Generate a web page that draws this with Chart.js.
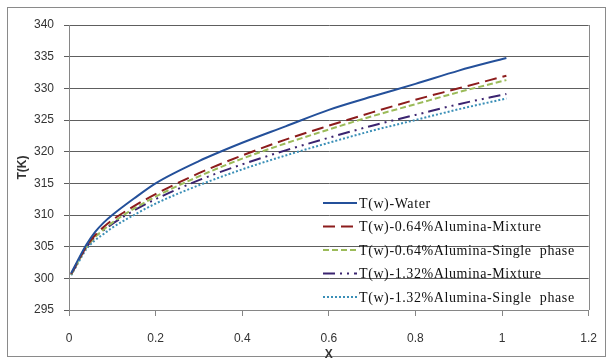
<!DOCTYPE html>
<html>
<head>
<meta charset="utf-8">
<script src="https://cdn.jsdelivr.net/npm/chart.js@4"></script>
<style>
  html, body { margin: 0; padding: 0; background: #fff; }
  #wrap { width: 612px; height: 363px; }
</style>
</head>
<body>
<div id="wrap"><canvas id="chart" width="612" height="363"></canvas></div>
<script>
// ─── data ───
const xs = [0.005, 0.02, 0.04, 0.06, 0.08, 0.1, 0.15, 0.2, 0.3, 0.4, 0.5, 0.6, 0.7, 0.8, 0.9, 1.01];
const water   = [300.8, 302.8, 305.3, 307.3, 308.8, 310.0, 312.6, 315.0, 318.5, 321.4, 324.0, 326.6, 328.7, 330.7, 332.8, 334.8];
const mix064  = [300.7, 302.6, 305.0, 306.8, 308.1, 309.2, 311.4, 313.3, 316.6, 319.4, 321.9, 324.1, 326.2, 328.2, 330.0, 332.0];
const sing064 = [300.6, 302.5, 304.9, 306.5, 307.7, 308.8, 311.0, 312.9, 316.1, 318.9, 321.3, 323.5, 325.6, 327.5, 329.4, 331.3];
const mix132  = [300.6, 302.5, 304.9, 306.5, 307.6, 308.6, 310.7, 312.5, 315.5, 318.0, 320.2, 322.2, 324.1, 325.8, 327.5, 329.1];
const sing132 = [300.5, 302.3, 304.6, 306.0, 307.0, 308.0, 310.0, 311.8, 314.7, 317.2, 319.4, 321.4, 323.3, 325.0, 326.7, 328.4];

const seriesNames = [
  "T(w)-Water",
  "T(w)-0.64%Alumina-Mixture",
  "T(w)-0.64%Alumina-Single  phase",
  "T(w)-1.32%Alumina-Mixture",
  "T(w)-1.32%Alumina-Single  phase"
];
const yTicks = [295, 300, 305, 310, 315, 320, 325, 330, 335, 340];
const xTicks = [0, 0.2, 0.4, 0.6, 0.8, 1, 1.2];

const colors = ["#24509a", "#8c1c1c", "#9bbb59", "#3b2470", "#3a8fb7"];
const dashes = [[], [12, 6], [6, 3], [12, 5, 2, 5, 2, 5], [2, 2]];

function points(vals) {
  return xs.map((x, i) => ({ x: x, y: vals[i] }));
}

const allSeries = [water, mix064, sing064, mix132, sing132];

// ─── frame + right edge of the plot ───
const framePlugin = {
  id: "frame",
  beforeDraw(chart) {
    const ctx = chart.ctx;
    ctx.save();
    ctx.fillStyle = "#fff";
    ctx.fillRect(0, 0, chart.width, chart.height);
    ctx.strokeStyle = "#8a8a8a";
    ctx.lineWidth = 1;
    ctx.strokeRect(7.5, 7.5, 598, 349);
    ctx.restore();
  },
  afterDraw(chart) {
    const ctx = chart.ctx;
    const a = chart.chartArea;
    ctx.save();
    ctx.strokeStyle = "#8a8a8a";
    ctx.lineWidth = 1;
    ctx.beginPath();
    ctx.moveTo(Math.round(a.right) + 0.5, a.top);
    ctx.lineTo(Math.round(a.right) + 0.5, a.bottom);
    ctx.stroke();
    ctx.restore();
  }
};

// ─── legend inside the plot (transparent, like Excel) ───
const insideLegend = {
  id: "insideLegend",
  afterDraw(chart) {
    const ctx = chart.ctx;
    const x0 = 323, x1 = 357, top = 203, step = 23.5;
    ctx.save();
    ctx.font = "14px 'Liberation Serif', 'Times New Roman', serif";
    ctx.letterSpacing = "0.6px";
    ctx.textBaseline = "middle";
    ctx.fillStyle = "#111";
    chart.data.datasets.forEach((ds, i) => {
      const y = top + i * step;
      ctx.strokeStyle = ds.borderColor;
      ctx.lineWidth = 2;
      ctx.setLineDash(ds.borderDash || []);
      ctx.beginPath();
      ctx.moveTo(x0, y);
      ctx.lineTo(x1, y);
      ctx.stroke();
      ctx.setLineDash([]);
      ctx.fillText(ds.label, x1 + 2, y + 1);
    });
    ctx.restore();
  }
};

const ctx = document.getElementById("chart").getContext("2d");
new Chart(ctx, {
  type: "line",
  data: {
    datasets: allSeries.map((vals, i) => ({
      label: seriesNames[i],
      data: points(vals),
      borderColor: colors[i],
      borderWidth: 2,
      borderDash: dashes[i],
      pointRadius: 0,
      fill: false,
      cubicInterpolationMode: "monotone"
    }))
  },
  options: {
    responsive: false,
    animation: false,
    layout: { padding: { left: 8, right: 20, top: 25, bottom: 0 } },
    plugins: {
      legend: { display: false },
      tooltip: { enabled: false }
    },
    scales: {
      x: {
        type: "linear",
        min: 0,
        max: 1.2,
        afterBuildTicks(scale) { scale.ticks = xTicks.map(v => ({ value: v })); },
        afterFit(scale) { scale.height = 53; },
        grid: { drawOnChartArea: false, drawTicks: true, tickLength: 6, color: "#868686" },
        border: { color: "#868686" },
        ticks: {
          padding: 15,
          color: "#333",
          font: { family: "'Liberation Sans', Arial, sans-serif", size: 12 },
          callback: v => String(v)
        },
        title: {
          display: true,
          text: "X",
          color: "#333",
          padding: { top: 0, bottom: 1 },
          font: { family: "'Liberation Sans', Arial, sans-serif", size: 12, weight: "bold" }
        }
      },
      y: {
        min: 295,
        max: 340,
        afterBuildTicks(scale) { scale.ticks = yTicks.map(v => ({ value: v })); },
        afterFit(scale) { scale.width = 61; },
        grid: { color: "#5e5e5e", lineWidth: 1, tickLength: 5 },
        border: { color: "#868686" },
        ticks: {
          padding: 10,
          color: "#333",
          font: { family: "'Liberation Sans', Arial, sans-serif", size: 12 }
        },
        title: {
          display: true,
          text: "T(K)",
          color: "#333",
          padding: { top: 7, bottom: 0 },
          font: { family: "'Liberation Sans', Arial, sans-serif", size: 12, weight: "bold" }
        }
      }
    }
  },
  plugins: [framePlugin, insideLegend]
});
</script>
</body>
</html>
